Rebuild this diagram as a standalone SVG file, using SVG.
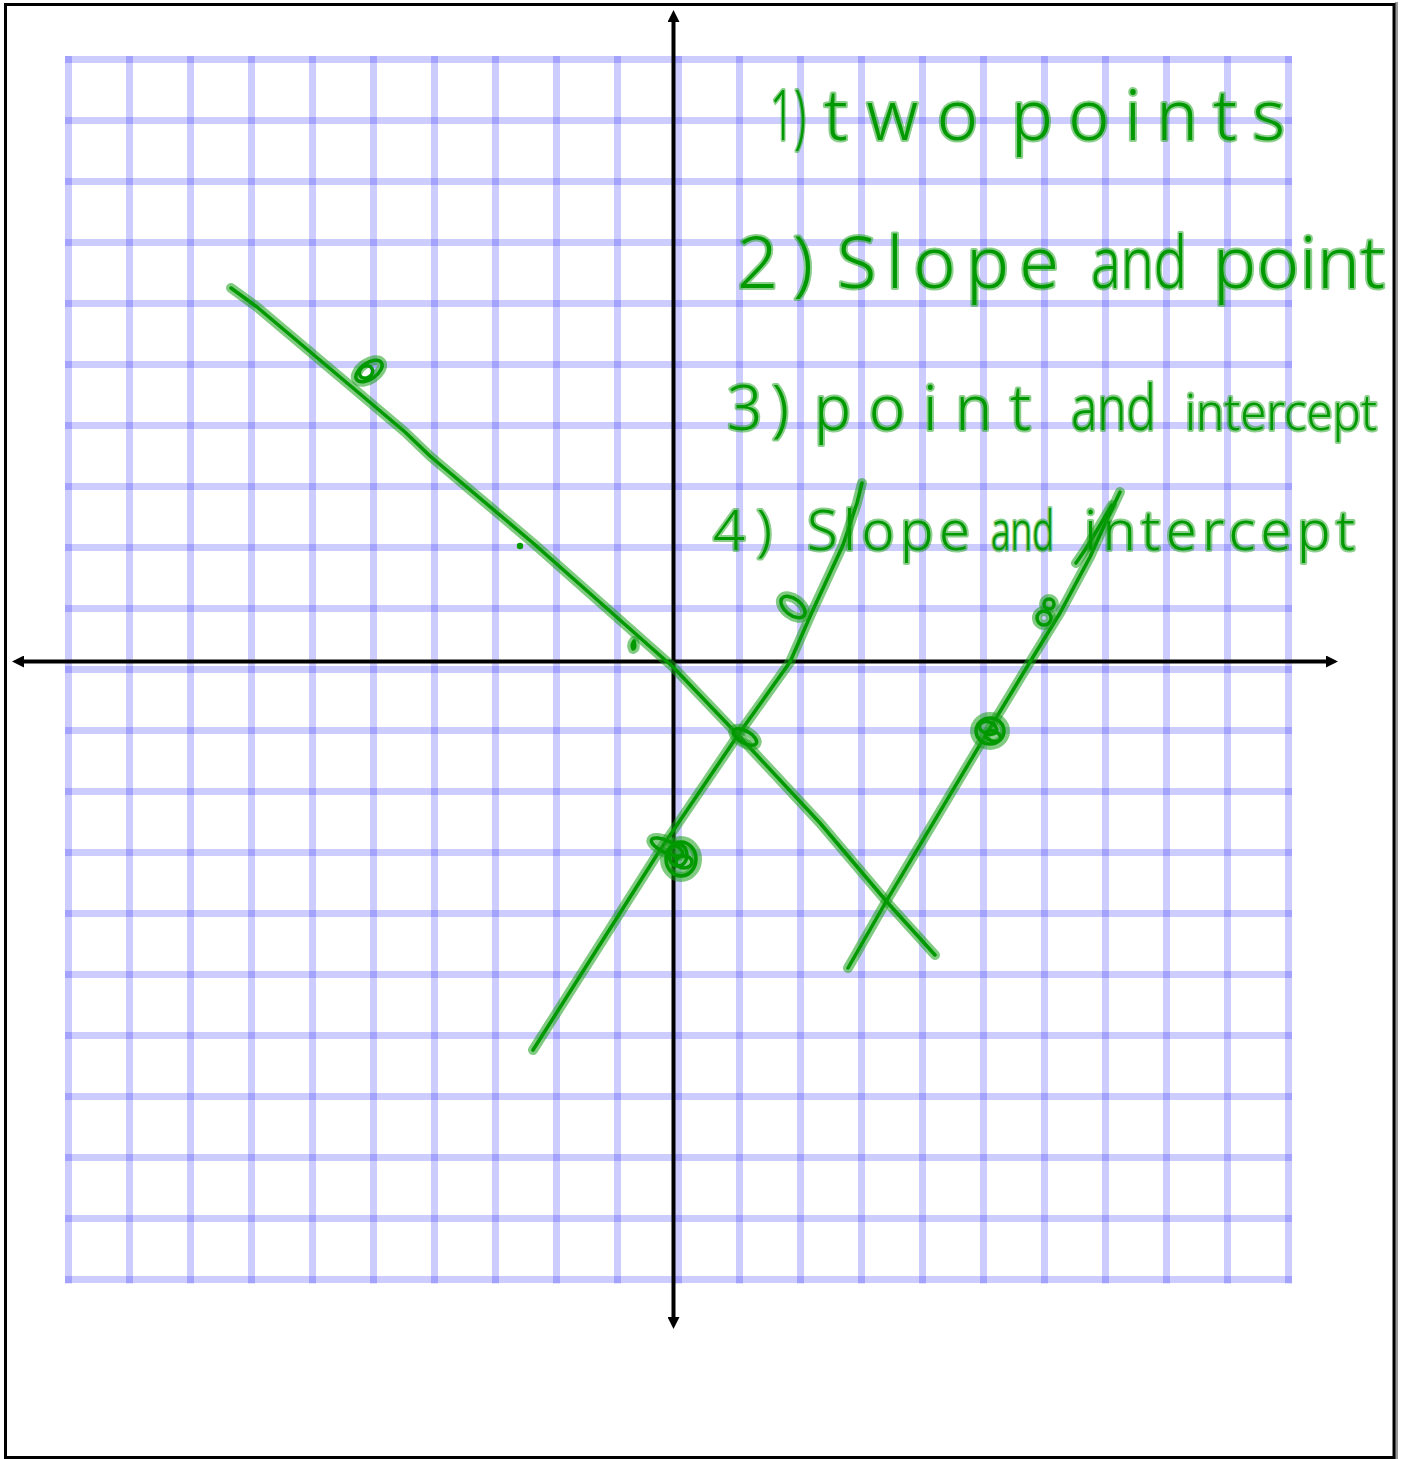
<svg xmlns="http://www.w3.org/2000/svg" xmlns:xlink="http://www.w3.org/1999/xlink" width="1407" height="1459" viewBox="0 0 1407 1459">
  <style>
    .grid line { stroke: #0000ff; stroke-opacity: 0.2; stroke-width: 7; }
    .axis { stroke: #000; stroke-width: 4; fill: none; }
    .halo { fill: none; stroke: #1a9e1a; stroke-opacity: 0.55; stroke-width: 10; stroke-linecap: round; stroke-linejoin: round; }
    .core { fill: none; stroke: #009900; stroke-width: 3.5; stroke-linecap: round; stroke-linejoin: round; }
    .blob { fill: #1a9e1a; fill-opacity: 0.5; }
    .hw { font-family: "Noto Sans", "Liberation Sans", Arial, sans-serif; font-weight: 300; fill: #009900; stroke: #1a9e1a; stroke-opacity: 0.5; stroke-width: 4; stroke-linejoin: round; paint-order: stroke; }
  </style>
  <defs>
    <marker id="ah" viewBox="0 0 12 12" refX="2" refY="6" markerWidth="12" markerHeight="12" markerUnits="userSpaceOnUse" orient="auto-start-reverse">
      <path d="M0,0 L12,6 L0,12 Z" fill="#000"/>
    </marker>
    <path id="lineA" d="M231,288 L257,307 L353,388 L405,432 L430,456 L533,543 L673,667 L738,735 L820,823 L887,902 L935,955"/>
    <path id="lineB" d="M533,1050 L660,850 L738,735 L790,662 L812,612 L843,545 L857,503 L862,483"/>
    <path id="lineC" d="M848,968 L887,900 L990,728 L1030,662 L1060,613 L1090,557 L1105,524 L1120,492"/>
    <path id="marks" d="M1112,505 L1085,550 L1076,563 M634,641 Q636,648 633,649 Q631,645 634,641"/>
  </defs>

  <rect x="0" y="0" width="1407" height="1459" fill="#fff"/>
  <line x1="1396.5" y1="2" x2="1396.5" y2="1459" stroke="#999" stroke-width="3"/>
  <rect x="5.5" y="4.5" width="1388.5" height="1453" fill="none" stroke="#000" stroke-width="3"/>

  <g id="grid" class="grid">
    <line x1="68.5" y1="56" x2="68.5" y2="1283.5"/>
    <line x1="129.5" y1="56" x2="129.5" y2="1283.5"/>
    <line x1="190.5" y1="56" x2="190.5" y2="1283.5"/>
    <line x1="251.5" y1="56" x2="251.5" y2="1283.5"/>
    <line x1="312.5" y1="56" x2="312.5" y2="1283.5"/>
    <line x1="373.5" y1="56" x2="373.5" y2="1283.5"/>
    <line x1="434.5" y1="56" x2="434.5" y2="1283.5"/>
    <line x1="495.5" y1="56" x2="495.5" y2="1283.5"/>
    <line x1="556.5" y1="56" x2="556.5" y2="1283.5"/>
    <line x1="617.5" y1="56" x2="617.5" y2="1283.5"/>
    <line x1="678.5" y1="56" x2="678.5" y2="1283.5"/>
    <line x1="739.5" y1="56" x2="739.5" y2="1283.5"/>
    <line x1="800.5" y1="56" x2="800.5" y2="1283.5"/>
    <line x1="861.5" y1="56" x2="861.5" y2="1283.5"/>
    <line x1="922.5" y1="56" x2="922.5" y2="1283.5"/>
    <line x1="983.5" y1="56" x2="983.5" y2="1283.5"/>
    <line x1="1044.5" y1="56" x2="1044.5" y2="1283.5"/>
    <line x1="1105.5" y1="56" x2="1105.5" y2="1283.5"/>
    <line x1="1166.5" y1="56" x2="1166.5" y2="1283.5"/>
    <line x1="1227.5" y1="56" x2="1227.5" y2="1283.5"/>
    <line x1="1288.5" y1="56" x2="1288.5" y2="1283.5"/>
    <line x1="65" y1="59.5" x2="1292" y2="59.5"/>
    <line x1="65" y1="120.5" x2="1292" y2="120.5"/>
    <line x1="65" y1="181.5" x2="1292" y2="181.5"/>
    <line x1="65" y1="242.5" x2="1292" y2="242.5"/>
    <line x1="65" y1="303.5" x2="1292" y2="303.5"/>
    <line x1="65" y1="364.5" x2="1292" y2="364.5"/>
    <line x1="65" y1="425.5" x2="1292" y2="425.5"/>
    <line x1="65" y1="486.5" x2="1292" y2="486.5"/>
    <line x1="65" y1="547.5" x2="1292" y2="547.5"/>
    <line x1="65" y1="608.5" x2="1292" y2="608.5"/>
    <line x1="65" y1="669.5" x2="1292" y2="669.5"/>
    <line x1="65" y1="730.5" x2="1292" y2="730.5"/>
    <line x1="65" y1="791.5" x2="1292" y2="791.5"/>
    <line x1="65" y1="852.5" x2="1292" y2="852.5"/>
    <line x1="65" y1="913.5" x2="1292" y2="913.5"/>
    <line x1="65" y1="974.5" x2="1292" y2="974.5"/>
    <line x1="65" y1="1035.5" x2="1292" y2="1035.5"/>
    <line x1="65" y1="1096.5" x2="1292" y2="1096.5"/>
    <line x1="65" y1="1157.5" x2="1292" y2="1157.5"/>
    <line x1="65" y1="1218.5" x2="1292" y2="1218.5"/>
    <line x1="65" y1="1279.5" x2="1292" y2="1279.5"/>
  </g>

  <g id="axes">
    <line class="axis" x1="22" y1="661.5" x2="1328" y2="661.5" marker-start="url(#ah)" marker-end="url(#ah)"/>
    <line class="axis" x1="673.5" y1="20" x2="673.5" y2="1319" marker-start="url(#ah)" marker-end="url(#ah)"/>
  </g>

  <g id="lines">
    <use xlink:href="#lineA" class="halo"/>
    <use xlink:href="#lineB" class="halo"/>
    <use xlink:href="#lineC" class="halo"/>
    <use xlink:href="#marks" class="halo"/>
    <use xlink:href="#lineA" class="core"/>
    <use xlink:href="#lineB" class="core"/>
    <use xlink:href="#lineC" class="core"/>
    <use xlink:href="#marks" class="core"/>
  </g>

  <g id="points">
    <g class="pt-loop-a">
      <ellipse cx="369" cy="371" rx="15" ry="8" transform="rotate(-35 369 371)" class="halo"/>
      <ellipse cx="369" cy="371" rx="15" ry="8" transform="rotate(-35 369 371)" class="core"/>
      <ellipse cx="366" cy="372" rx="7" ry="6" transform="rotate(-35 366 372)" class="core"/>
    </g>
    <circle cx="520" cy="546" r="3.2" fill="#009900"/>
    <g class="pt-cross">
      <ellipse cx="745" cy="737" rx="13" ry="6" transform="rotate(30 745 737)" class="halo"/>
      <ellipse cx="745" cy="737" rx="13" ry="6" transform="rotate(30 745 737)" class="core"/>
    </g>
    <g class="pt-yint">
      <ellipse cx="681" cy="859" rx="16" ry="18" class="blob"/>
      <ellipse cx="667" cy="847" rx="17" ry="6" transform="rotate(25 667 847)" class="halo"/>
      <ellipse cx="681" cy="859" rx="16" ry="18" class="halo"/>
      <ellipse cx="667" cy="847" rx="17" ry="6" transform="rotate(25 667 847)" class="core"/>
      <ellipse cx="681" cy="859" rx="15" ry="17" class="core"/>
      <ellipse cx="678" cy="855" rx="9" ry="11" class="core"/>
      <ellipse cx="684" cy="862" rx="8" ry="6" class="core"/>
    </g>
    <g class="pt-zero">
      <ellipse cx="793" cy="607" rx="14" ry="8" transform="rotate(38 793 607)" class="halo"/>
      <ellipse cx="793" cy="607" rx="14" ry="8" transform="rotate(38 793 607)" class="core"/>
    </g>
    <g class="pt-c">
      <ellipse cx="990" cy="731" rx="15" ry="14" class="blob"/>
      <ellipse cx="990" cy="731" rx="15" ry="14" class="halo"/>
      <ellipse cx="990" cy="731" rx="14" ry="13" class="core"/>
      <ellipse cx="988" cy="728" rx="9" ry="6" transform="rotate(20 988 728)" class="core"/>
      <ellipse cx="993" cy="736" rx="8" ry="5" transform="rotate(20 993 736)" class="core"/>
    </g>
    <g class="pt-eight">
      <circle cx="1049" cy="604" r="5" class="halo"/>
      <circle cx="1044" cy="618" r="7" class="halo"/>
      <circle cx="1049" cy="604" r="5" class="core"/>
      <circle cx="1044" cy="618" r="7" class="core"/>
    </g>
  </g>

  <g id="notes">
    <g id="note1" font-size="70">
      <text class="hw" x="770" y="140" textLength="36" lengthAdjust="spacingAndGlyphs">1)</text>
      <text class="hw" x="824" y="140" textLength="154" lengthAdjust="spacing">two</text>
      <text class="hw" x="1011" y="140" textLength="274" lengthAdjust="spacing">points</text>
    </g>
    <g id="note2" font-size="72">
      <text class="hw" x="737" y="288" textLength="76" lengthAdjust="spacing">2)</text>
      <text class="hw" x="837" y="288" textLength="222" lengthAdjust="spacing">Slope</text>
      <text class="hw" x="1091" y="288" textLength="96" lengthAdjust="spacingAndGlyphs">and</text>
      <text class="hw" x="1213" y="288" textLength="172" lengthAdjust="spacing">point</text>
    </g>
    <g id="note3" font-size="62">
      <text class="hw" x="727" y="430" textLength="62" lengthAdjust="spacing">3)</text>
      <text class="hw" x="814" y="430" textLength="217" lengthAdjust="spacing">point</text>
      <text class="hw" x="1071" y="430" textLength="85" lengthAdjust="spacingAndGlyphs">and</text>
      <text class="hw" x="1185" y="430" font-size="50" textLength="192" lengthAdjust="spacingAndGlyphs">intercept</text>
    </g>
    <g id="note4" font-size="56">
      <text class="hw" x="713" y="550" textLength="59" lengthAdjust="spacing">4)</text>
      <text class="hw" x="807" y="550" textLength="163" lengthAdjust="spacing">Slope</text>
      <text class="hw" x="991" y="550" textLength="63" lengthAdjust="spacingAndGlyphs">and</text>
      <text class="hw" x="1084" y="550" textLength="271" lengthAdjust="spacing">intercept</text>
    </g>
  </g>
</svg>
